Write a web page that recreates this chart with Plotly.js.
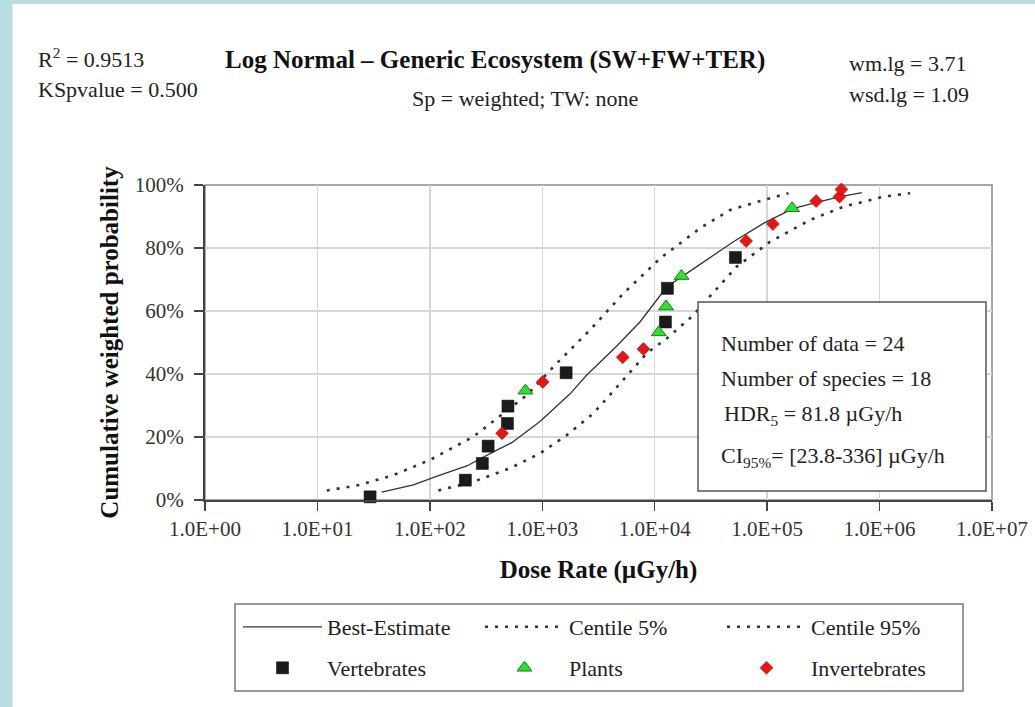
<!DOCTYPE html>
<html><head><meta charset="utf-8">
<script src="https://cdn.plot.ly/plotly-3.0.1.min.js"></script>
<style>html,body{margin:0;padding:0;background:#fff;} #chart{width:1035px;height:707px;}</style>
</head><body><div id="chart"></div>
<script>
// ---- data (dose rate in µGy/h, cumulative weighted probability in %) ----
const vertDose = [29.4, 207, 293, 330, 490, 495, 1630, 12450, 12970, 52200];
const vertProb = [1.0, 6.3, 11.6, 17.1, 24.3, 29.8, 40.4, 56.5, 67.2, 77.0];
const plantDose = [708, 10860, 12620, 17300, 166700];
const plantProb = [34.7, 53.2, 61.4, 71.1, 92.6];
const invDose = [439, 1009, 5200, 7940, 65000, 112500, 272900, 439500, 458100];
const invProb = [21.2, 37.5, 45.3, 47.9, 82.2, 87.6, 94.9, 96.3, 98.6];

const bestDose = [37.3, 71.3, 123, 213, 367, 535, 955, 1766, 2489, 4603, 7413, 12820, 23660, 50120, 92680, 171400, 416900, 695000];
const bestProb = [2.5, 4.8, 7.9, 10.8, 15.3, 18.2, 24.9, 33.7, 39.7, 48.9, 56.6, 67.7, 74.1, 82.0, 87.8, 92.6, 96.1, 97.6];
const c5Dose = [12.1, 23.9, 47.3, 100, 244, 394, 728, 1346, 2661, 5272, 9100, 11170, 25350, 46880, 92680, 154900];
const c5Prob = [3.0, 4.8, 7.9, 12.7, 20.1, 25.9, 33.3, 43.4, 54.0, 65.6, 73.6, 76.7, 86.3, 92.1, 95.2, 97.4];
const c95Dose = [119, 244, 518, 955, 1652, 2851, 4920, 8511, 12820, 22130, 27160, 53700, 106400, 241000, 477500, 1084000, 1871000];
const c95Prob = [3.0, 5.8, 10.1, 14.8, 20.6, 27.5, 37.0, 46.6, 51.3, 58.7, 62.4, 74.1, 82.0, 88.9, 93.1, 96.3, 97.4];

const xTickVals = [1, 10, 100, 1e3, 1e4, 1e5, 1e6, 1e7];
const xTickText = ['1.0E+00', '1.0E+01', '1.0E+02', '1.0E+03', '1.0E+04', '1.0E+05', '1.0E+06', '1.0E+07'];
const yTickVals = [0, 20, 40, 60, 80, 100];
const yTickText = ['0%', '20%', '40%', '60%', '80%', '100%'];

const seriesNames = ['Best-Estimate', 'Centile 5%', 'Centile 95%', 'Vertebrates', 'Plants', 'Invertebrates'];

const titleText = 'Log Normal – Generic Ecosystem (SW+FW+TER)';
const subTitleText = 'Sp = weighted; TW: none';
const statsLeft = ['R<sup>2</sup> = 0.9513', 'KSpvalue = 0.500'];
const statsRight = ['wm.lg = 3.71', 'wsd.lg = 1.09'];
const boxLines = ['Number of data = 24', 'Number of species = 18', 'HDR<sub>5</sub> = 81.8 µGy/h', 'CI<sub>95%</sub>= [23.8-336] µGy/h'];

// ---- layout geometry helpers (pixels -> paper) ----
const W = 1035, H = 707;
const L = 205, R = 992, T = 185, B = 500;
const PW = R - L, PH = B - T;
const px = v => (v - L) / PW;
const py = v => (B - v) / PH;

const SERIF = '"Liberation Serif", "Times New Roman", Times, serif';
const TXT = '#222';

const lineDash = '3px,7px';
const traces = [
  {x: bestDose, y: bestProb, name: seriesNames[0], mode: 'lines', type: 'scatter',
   line: {color: '#333', width: 1.3}, legend: 'legend'},
  {x: c5Dose, y: c5Prob, name: seriesNames[1], mode: 'lines', type: 'scatter',
   line: {color: '#333', width: 2.6, dash: lineDash}, legend: 'legend'},
  {x: c95Dose, y: c95Prob, name: seriesNames[2], mode: 'lines', type: 'scatter',
   line: {color: '#333', width: 2.6, dash: lineDash}, legend: 'legend'},
  {x: vertDose, y: vertProb, name: seriesNames[3], mode: 'markers', type: 'scatter', cliponaxis: false,
   marker: {symbol: 'square', size: 12, color: '#1b1b1b', line: {color: '#000', width: 0.5}}, legend: 'legend2'},
  {x: plantDose, y: plantProb, name: seriesNames[4], mode: 'markers', type: 'scatter', cliponaxis: false,
   marker: {symbol: 'triangle-up', size: 13, color: '#2fe02f', line: {color: '#1a7a1a', width: 1}}, legend: 'legend2'},
  {x: invDose, y: invProb, name: seriesNames[5], mode: 'markers', type: 'scatter', cliponaxis: false,
   marker: {symbol: 'diamond', size: 10, color: '#e01818', line: {color: '#b00000', width: 0.5}}, legend: 'legend2'}
];

const ann = [];
ann.push({text: '<b>' + titleText + '</b>', x: px(495), y: py(60), xanchor: 'center', yanchor: 'middle',
  font: {family: SERIF, size: 25, color: '#111'}});
ann.push({text: subTitleText, x: px(525), y: py(98), xanchor: 'center', yanchor: 'middle',
  font: {family: SERIF, size: 22, color: TXT}});
ann.push({text: statsLeft[0], x: px(36), y: py(58), xanchor: 'left', yanchor: 'middle',
  font: {family: SERIF, size: 22, color: TXT}});
ann.push({text: statsLeft[1], x: px(36), y: py(90), xanchor: 'left', yanchor: 'middle',
  font: {family: SERIF, size: 22, color: TXT}});
ann.push({text: statsRight[0], x: px(847), y: py(63), xanchor: 'left', yanchor: 'middle',
  font: {family: SERIF, size: 22, color: TXT}});
ann.push({text: statsRight[1], x: px(847), y: py(95), xanchor: 'left', yanchor: 'middle',
  font: {family: SERIF, size: 22, color: TXT}});
const boxX = [719, 719, 722, 719];
const boxY = [343, 378, 415, 457];
boxLines.forEach((t, i) => ann.push({text: t, x: px(boxX[i]), y: py(boxY[i]), xanchor: 'left', yanchor: 'middle',
  font: {family: SERIF, size: 22, color: TXT}}));
ann.forEach(a => { a.xref = 'paper'; a.yref = 'paper'; a.showarrow = false; });

const shapes = [
  // blue frame strips of the slide
  {type: 'rect', xref: 'paper', yref: 'paper', x0: px(0), x1: px(12.5), y0: py(H + 2), y1: py(-2),
   fillcolor: '#b9dee2', line: {width: 0}, layer: 'below'},
  {type: 'rect', xref: 'paper', yref: 'paper', x0: px(0), x1: px(W + 2), y0: py(4), y1: py(-2),
   fillcolor: '#b9dee2', line: {width: 0}, layer: 'below'},
  // plot-area frame (top / right)
  {type: 'rect', xref: 'paper', yref: 'paper', x0: 0, x1: 1, y0: 0, y1: 1,
   line: {color: '#8a8a8a', width: 1.5}, fillcolor: 'rgba(0,0,0,0)', layer: 'below'},
  // statistics box
  {type: 'rect', xref: 'paper', yref: 'paper', x0: px(698), x1: px(986), y0: py(491), y1: py(302),
   line: {color: '#555', width: 1.5}, fillcolor: '#fff', layer: 'above'},
  // legend frame
  {type: 'rect', xref: 'paper', yref: 'paper', x0: px(235), x1: px(963), y0: py(691), y1: py(604),
   line: {color: '#777', width: 1.5}, fillcolor: 'rgba(0,0,0,0)', layer: 'below'}
];

const legendCommon = {orientation: 'h', xanchor: 'left', yanchor: 'middle', x: px(238),
  entrywidth: 148, entrywidthmode: 'pixels', itemwidth: 79, bgcolor: 'rgba(0,0,0,0)', borderwidth: 0,
  font: {family: SERIF, size: 22, color: TXT}, traceorder: 'normal'};

const layout = {
  width: W, height: H,
  margin: {l: L, r: W - R, t: T, b: H - B, autoexpand: false},
  paper_bgcolor: '#fff', plot_bgcolor: '#fff',
  font: {family: SERIF, color: TXT},
  showlegend: true,
  legend: Object.assign({}, legendCommon, {y: py(627)}),
  legend2: Object.assign({}, legendCommon, {y: py(668)}),
  xaxis: {
    type: 'log', range: [0, 7], tickvals: xTickVals, ticktext: xTickText,
    showgrid: true, gridcolor: '#d6d6d6', gridwidth: 1.5,
    showline: true, linecolor: '#444', linewidth: 2,
    ticks: 'outside', ticklen: 9, tickwidth: 1.5, tickcolor: '#444',
    tickfont: {family: SERIF, size: 21, color: '#333'},
    zeroline: false,
    title: {text: '<b>Dose Rate (µGy/h)</b>', font: {family: SERIF, size: 25, color: '#111'}, standoff: 20}
  },
  yaxis: {
    range: [0, 100], tickvals: yTickVals, ticktext: yTickText,
    showgrid: true, gridcolor: '#d6d6d6', gridwidth: 1.5,
    showline: true, linecolor: '#444', linewidth: 2,
    ticks: 'outside', ticklen: 9, tickwidth: 1.5, tickcolor: '#444', ticklabelstandoff: 6,
    tickfont: {family: SERIF, size: 21, color: '#333'},
    zeroline: false,
    title: {text: '<b>Cumulative weighted probability</b>', font: {family: SERIF, size: 25, color: '#111'}, standoff: 9}
  },
  annotations: ann,
  shapes: shapes
};

Plotly.newPlot('chart', traces, layout, {displayModeBar: false, staticPlot: true});
</script>
</body></html>
